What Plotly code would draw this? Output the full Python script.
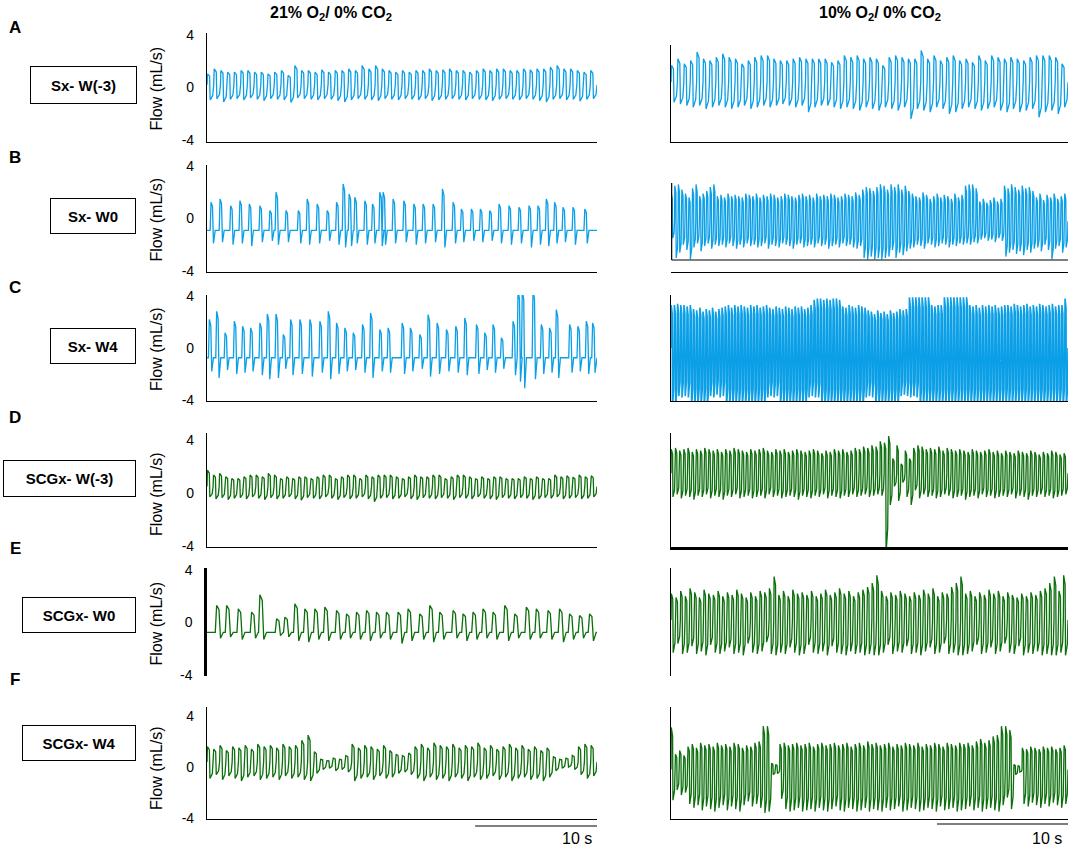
import plotly.graph_objects as go

W, H = 1072, 847
BLUE = "#0a9fe6"
GREEN = "#0b6f0b"

# ---------------- data (flow in mL/s) ----------------
row_labels = ["A", "B", "C", "D", "E", "F"]
box_labels = ["Sx- W(-3)", "Sx- W0", "Sx- W4", "SCGx- W(-3)", "SCGx- W0", "SCGx- W4"]
col_titles = ["<b>21% O<sub>2</sub>/ 0% CO<sub>2</sub></b>", "<b>10% O<sub>2</sub>/ 0% CO<sub>2</sub></b>"]
tick_vals = [-4, 0, 4]
tick_text = ["-4", "0", "4"]
y_title = "Flow (mL/s)"
scale_label = "10 s"
scale_seconds = 10
dur_left = 32.0     # seconds shown in the left column
dur_right = 30.3    # seconds shown in the right column

# A-left: Sx W(-3), 21% O2
base_A_left = 0.2
peaks_A_left = [1.04,1.42,1.30,1.17,1.17,1.30,1.30,1.17,1.17,1.04,1.17,1.30,0.92,1.68,1.30,1.30,1.17,1.35,1.17,1.30,
                1.30,1.42,1.30,1.68,1.42,1.68,1.42,1.30,1.17,1.30,1.17,1.30,1.30,1.42,1.30,1.35,1.42,1.30,1.30,1.17,
                1.30,1.42,1.30,1.42,1.42,1.30,1.30,1.42,1.35,1.42,1.42,1.55,1.68,1.42,1.42,1.30,1.17,1.30]
troughs_A_left = [-0.95,-0.85,-1.10,-0.90,-0.85,-0.95,-0.80,-0.90,-1.00,-0.85,-0.90,-0.95,-1.15,-0.80,-0.85,-0.90,-0.95,-0.85,-0.90,-1.00,
                  -1.10,-0.95,-0.85,-0.90,-0.95,-1.00,-0.85,-0.90,-0.95,-0.85,-0.90,-0.95,-0.85,-1.00,-0.95,-0.90,-0.85,-0.90,-0.95,-0.85,
                  -0.90,-0.95,-1.00,-0.90,-0.85,-0.90,-0.95,-0.85,-0.90,-1.00,-1.10,-0.90,-0.85,-0.95,-0.90,-1.05,-0.90,-0.85]

# A-right: Sx W(-3), 10% O2
base_A_right = 0.4
peaks_A_right = [1.68,2.19,1.81,2.06,2.70,2.19,2.06,2.31,2.57,2.31,2.19,1.81,2.06,2.31,2.44,2.44,2.19,2.06,2.06,2.19,
                 2.31,2.19,2.19,2.19,2.19,1.93,2.06,2.44,2.31,2.44,2.19,2.31,2.19,1.68,2.31,2.44,2.31,2.19,2.19,2.82,
                 2.19,2.44,2.06,2.31,2.44,2.06,2.19,1.93,2.44,2.06,2.44,2.31,2.19,2.31,2.19,2.06,2.31,2.44,2.44,2.44,
                 2.31,1.81]
troughs_A_right = [-1.12,-1.25,-1.37,-1.50,-1.37,-1.63,-1.50,-1.37,-1.50,-1.63,-1.50,-1.37,-1.63,-1.50,-1.37,-1.50,-1.37,-1.25,-1.37,-1.50,
                   -1.37,-1.88,-1.50,-1.37,-1.37,-1.50,-1.63,-1.50,-1.63,-1.76,-1.50,-1.63,-1.76,-1.50,-1.63,-1.76,-1.50,-2.39,-1.63,-1.76,
                   -1.88,-1.50,-1.63,-2.01,-1.88,-1.63,-1.50,-1.63,-1.76,-1.63,-1.50,-1.76,-1.88,-1.63,-1.88,-1.76,-1.63,-2.27,-1.88,-1.76,
                   -2.01,-1.50]

# B-left: Sx W0, 21% O2 (spiky breaths on a flat baseline)
base_B_left = -0.9
times_B_left = [0.33,1.07,1.94,2.70,3.47,4.34,5.16,5.66,6.48,7.49,8.22,9.04,9.86,10.63,11.17,11.66,12.13,12.95,13.58,14.18,
                14.45,15.27,16.15,16.97,17.73,18.55,19.32,20.19,20.87,21.69,22.43,23.20,23.96,24.78,25.60,26.42,27.16,27.84,28.52,29.21,
                30.03,31.00]
peaks_B_left = [1.24,1.49,0.98,1.36,1.11,0.98,0.61,2.00,0.61,0.61,1.49,1.11,0.61,1.24,2.63,1.87,1.62,1.36,1.11,2.00,
                2.00,1.49,1.36,1.11,1.11,1.11,2.25,1.24,0.73,0.73,0.73,0.61,1.11,0.98,0.86,0.98,0.98,1.49,1.24,0.86,
                0.86,0.73]
troughs_B_left = [-1.9,-1.8,-2.0,-1.9,-2.1,-1.8,-1.7,-2.0,-1.8,-1.9,-2.0,-1.9,-1.7,-2.0,-2.2,-2.1,-1.9,-2.0,-1.9,-2.1,
                  -2.0,-1.9,-1.8,-2.0,-1.9,-1.8,-2.2,-1.9,-1.8,-1.7,-1.8,-1.7,-1.9,-2.0,-1.9,-2.2,-2.0,-2.1,-1.9,-1.8,
                  -2.0,-1.9]

# B-right: Sx W0, 10% O2
base_B_right = -0.2
peaks_B_right = [1.9,2.5,2.6,2.2,1.9,1.6,2.3,2.6,1.7,1.9,2.1,2.4,2.6,
                 1.7,1.8,1.6,1.9,1.7,1.8,1.7,1.6,1.9,1.8,1.7,1.9,1.6,1.8,1.7,1.9,1.8,1.6,1.7,1.9,
                 1.8,1.7,1.6,1.8,1.9,1.7,1.8,1.6,1.9,1.7,1.8,1.7,1.9,1.8,1.6,1.7,1.9,1.8,1.7,2.0,1.8,
                 2.2,2.4,2.3,2.1,2.4,2.6,2.5,2.2,
                 2.6,2.4,2.6,2.2,2.5,2.1,
                 1.9,1.7,1.6,2.0,1.8,1.5,1.7,1.9,1.6,1.8,1.7,1.5,1.9,1.6,1.8,
                 2.5,2.6,2.6,2.3,
                 1.3,1.5,1.2,1.4,1.6,1.3,1.5,
                 2.5,2.3,2.6,2.4,2.2,2.5,2.3,2.4,2.1,
                 1.6,1.9,1.4,1.8,1.6,1.9,1.5,1.7,1.9]
troughs_B_right = [-1.5,-3.0,-2.6,-2.0,-2.4,-3.1,-2.2,-1.9,-2.5,-2.1,-1.9,-2.3,-2.0,
                   -2.1,-2.0,-2.2,-1.9,-2.1,-2.3,-2.0,-2.2,-1.9,-2.1,-2.0,-2.2,-2.1,-1.9,-2.3,-2.0,-2.1,-2.2,-1.9,-2.0,
                   -2.1,-2.3,-2.0,-1.9,-2.2,-2.1,-2.0,-2.2,-1.9,-2.1,-2.0,-2.3,-2.1,-2.0,-2.2,-1.9,-2.1,-2.0,-2.2,-2.3,-2.1,
                   -3.0,-3.1,-2.9,-3.1,-3.0,-3.1,-3.0,-2.9,
                   -2.4,-3.0,-2.6,-2.8,-2.5,-2.3,
                   -2.2,-2.0,-2.1,-2.3,-1.9,-2.0,-2.2,-2.1,-1.9,-2.0,-2.2,-2.0,-2.1,-1.9,-2.0,
                   -1.9,-2.0,-1.8,-1.9,
                   -1.6,-1.5,-1.7,-1.6,-1.8,-1.5,-1.7,
                   -2.9,-2.6,-2.4,-2.7,-2.5,-2.8,-2.4,-2.6,-2.3,
                   -2.2,-2.5,-2.0,-2.4,-3.1,-2.3,-2.1,-2.6,-2.2]

# C-left: Sx W4, 21% O2
base_C_left = -0.75
times_C_left = [0.19,0.79,1.48,2.24,2.92,3.58,4.34,4.95,5.66,6.26,6.86,7.62,8.44,9.26,9.95,10.63,11.31,12.00,12.76,13.42,
                14.18,14.86,16.01,16.69,17.46,18.14,18.88,19.65,20.41,21.15,22.11,22.79,23.47,24.15,25.11,25.52,25.87,26.75,27.43,28.11,
                28.66,29.75,30.43,31.12,31.64]
peaks_C_left = [2.19,2.82,1.17,2.06,1.68,1.55,1.93,2.62,2.62,1.04,2.19,2.19,2.19,2.06,2.82,1.93,1.55,1.17,1.81,2.70,
                1.42,1.55,1.93,1.55,1.04,2.57,1.93,1.42,1.68,2.31,1.81,1.17,1.81,0.79,2.06,4.50,4.50,4.50,1.81,1.55,
                2.95,1.81,1.68,2.06,1.93]
troughs_C_left = [-1.8,-2.3,-1.7,-2.0,-1.9,-1.8,-2.1,-2.4,-2.3,-1.6,-2.1,-2.0,-2.2,-1.9,-2.4,-2.0,-1.8,-1.7,-1.9,-2.3,
                  -1.8,-1.9,-2.0,-1.8,-1.6,-2.2,-2.0,-1.8,-1.9,-2.1,-2.0,-1.7,-1.9,-1.6,-2.1,-2.6,-3.1,-2.4,-2.0,-1.9,
                  -2.3,-1.9,-1.8,-2.0,-1.9]

# C-right: Sx W4, 10% O2 (saturated)
base_C_right = 0.0
peaks_C_right = [3.3,3.3,3.4,3.3,3.3,3.2,3.3,
                 3.0,2.9,3.1,2.8,3.0,2.9,3.1,2.8,3.0,3.1,
                 3.2,3.3,3.1,3.3,3.2,3.3,3.2,3.1,3.3,3.2,3.3,3.1,3.2,3.3,
                 3.1,3.0,3.2,3.1,3.0,3.2,3.1,3.0,3.2,3.1,3.2,3.0,3.1,3.3,
                 3.7,3.8,3.8,3.7,3.8,3.7,3.8,3.8,3.7,
                 3.2,3.1,3.3,3.2,3.1,3.3,3.2,3.1,
                 2.9,2.8,2.6,2.9,2.7,2.8,2.6,2.9,2.7,2.8,3.0,2.9,3.0,
                 3.9,3.9,3.9,3.9,3.9,3.9,3.9,
                 3.3,3.2,3.3,3.3,
                 3.9,3.9,3.9,3.9,3.9,3.9,3.9,3.9,
                 3.3,3.2,3.3,3.1,3.3,3.2,3.3,3.2,3.3,3.1,3.2,3.3,
                 3.3,3.2,3.4,3.3,3.2,3.3,3.4,3.2,3.3,3.2,3.4,3.3,3.2,3.3,3.4,3.2,3.3,3.3,3.8]
troughs_C_right = [-4.5,-4.5,-3.7,-3.8,-3.7,-3.8,-4.5,-4.5,-4.5,-4.5,
                   -4.5,-4.5,-3.7,-3.8,-3.6,-3.8,-3.7,-4.5,-4.5,-4.5,
                   -4.5,-4.5,-4.5,-4.5,-4.5,-4.5,-4.5,-4.5,-4.5,-4.5,
                   -3.8,-3.7,-3.8,-3.7,-4.5,-4.5,-4.5,-4.5,-4.5,-4.5,
                   -4.5,-4.5,-4.5,-3.8,-3.7,-3.8,-3.8,-4.5,-4.5,-4.5,
                   -4.5,-4.5,-4.5,-4.5,-4.5,-4.5,-4.5,-4.5,-4.5,-4.5,
                   -4.5,-3.8,-3.7,-3.8,-4.5,-4.5,-4.5,-4.5,-4.5,-4.5,
                   -4.5,-4.5,-3.7,-3.6,-3.7,-3.8,-3.7,-3.8,-4.5,-4.5,
                   -4.5,-4.5,-4.5,-4.5,-4.5,-4.5,-4.5,-4.5,-4.5,-4.5,
                   -4.5,-4.5,-4.5,-4.5,-4.5,-4.5,-4.5,-4.5,-4.5,-4.5,
                   -4.5,-4.5,-4.5,-4.5,-4.5,-4.5,-4.5,-4.5,-4.5,-4.5,
                   -4.5,-4.5,-4.5,-4.5,-4.5,-4.5,-4.5,-4.5,-4.5,-4.5,
                   -4.5,-4.5,-4.5,-4.5,-4.5]

# D-left: SCGx W(-3), 21% O2
base_D_left = 0.5
peaks_D_left = [1.74,1.36,1.48,1.23,1.10,1.10,1.23,1.36,1.36,1.23,1.48,1.36,1.10,1.23,1.10,1.23,1.23,1.10,1.23,1.36,
                1.36,1.10,1.23,1.36,1.36,1.10,1.36,1.23,1.36,1.36,1.36,1.23,1.10,1.23,1.36,1.23,1.23,1.36,1.36,1.10,
                1.23,1.36,1.36,1.23,1.10,1.23,1.10,1.23,1.23,1.10,1.10,1.10,1.23,1.10,1.23,1.10,1.10,1.36,1.23,1.30,
                1.20,1.36,1.23,1.30]
troughs_D_left = [-0.30,-0.45,-0.35,-0.50,-0.40,-0.35,-0.45,-0.30,-0.40,-0.50,-0.35,-0.45,-0.40,-0.30,-0.45,-0.55,-0.35,-0.40,-0.45,-0.30,
                  -0.40,-0.50,-0.35,-0.45,-0.40,-0.30,-0.45,-0.65,-0.40,-0.35,-0.45,-0.40,-0.30,-0.45,-0.50,-0.35,-0.40,-0.45,-0.35,-0.40,
                  -0.50,-0.35,-0.40,-0.45,-0.30,-0.40,-0.45,-0.50,-0.35,-0.40,-0.45,-0.35,-0.40,-0.50,-0.45,-0.35,-0.40,-0.30,-0.45,-0.40,
                  -0.35,-0.45,-0.40,-0.30]

# D-right: SCGx W(-3), 10% O2
base_D_right = 1.5
peaks_D_right = [3.3,3.4,3.2,3.3,3.4,3.1,3.3,3.2,3.4,3.3, 3.2,3.3,3.1,3.3,3.2,3.4,3.3,3.2,3.1,3.3,
                 3.2,3.3,3.4,3.2,3.1,3.3,3.2,3.3,3.1,3.2, 3.3,3.2,3.1,3.2,3.3,3.2,3.0,3.2,3.1,3.3,
                 3.2,3.3,3.1,3.2,3.4,3.3,3.5,3.4,3.6,3.5, 3.9,3.8,4.3,2.6,3.6,2.2,3.2,2.6,3.4,3.6,
                 3.5,3.3,3.4,3.3,3.5,3.2,3.4,3.3,3.2,3.3, 3.2,3.1,3.3,3.2,3.1,3.2,3.3,3.1,3.2,3.0,
                 3.2,3.1,3.0,3.2,3.1,3.0,3.2,3.1,2.9,3.1, 3.0,3.2,3.1,2.9,3.0]
troughs_D_right = [-0.3,-0.1,-0.4,-0.2,-0.3,-0.5,-0.2,-0.3,-0.1,-0.4, -0.2,-0.3,-0.5,-0.2,-0.3,-0.1,-0.4,-0.3,-0.2,-0.4,
                   -0.3,-0.2,-0.4,-0.1,-0.3,-0.2,-0.4,-0.3,-0.2,-0.3, -0.5,-0.2,-0.3,-0.4,-0.2,-0.3,-0.1,-0.4,-0.2,-0.3,
                   -0.4,-0.2,-0.3,-0.1,-0.3,-0.2,-0.1,-0.3,-0.2,-0.1, -0.2,-4.5,-0.9,0.5,-0.6,0.8,-0.3,-0.9,0.2,-0.4,
                   -0.1,-0.3,-0.2,-0.4,-0.3,-0.1,-0.2,-0.4,-0.3,-0.2, -0.5,-0.3,-0.2,-0.4,-0.1,-0.3,-0.2,-0.4,-0.3,-0.2,
                   -0.3,-0.1,-0.4,-0.2,-0.3,-0.5,-0.2,-0.3,-0.1,-0.3, -0.2,-0.4,-0.3,-0.2,-0.1]

# E-left: SCGx W0, 21% O2
base_E_left = -0.75
times_E_left = [0.79,1.61,2.57,3.66,4.34,5.71,6.39,7.21,8.03,8.85,9.67,10.63,11.45,12.27,13.09,13.91,14.73,15.68,16.50,17.46,
                18.28,19.10,20.19,21.01,21.83,22.65,23.47,24.43,25.25,26.20,27.02,27.98,28.93,29.75,30.57,31.39]
peaks_E_left = [1.30,1.30,1.04,0.79,2.11,0.28,0.41,1.42,1.04,1.04,1.17,0.92,0.66,0.79,0.92,0.79,0.79,0.79,1.04,0.66,
                1.30,0.79,0.92,0.66,0.79,1.04,0.79,1.30,0.66,1.17,1.04,0.92,1.04,0.66,0.53,0.66]
troughs_E_left = [-1.2,-1.1,-1.3,-1.2,-1.3,-1.0,-1.1,-1.4,-1.5,-1.3,-1.4,-1.3,-1.2,-1.3,-1.4,-1.2,-1.3,-1.6,-1.4,-1.3,
                  -1.5,-1.3,-1.2,-1.4,-1.3,-1.2,-1.3,-1.4,-1.2,-1.3,-1.2,-1.3,-1.5,-1.3,-1.2,-1.4]

# E-right: SCGx W0, 10% O2
base_E_right = 0.2
peaks_E_right = [2.2,1.9,2.4,2.0,2.6,2.3,1.9,2.5,2.2,2.1, 2.4,2.0,2.3,2.1,2.5,2.2,1.9,2.3,2.0,2.4,
                 2.3,2.6,3.5,2.1,2.4,2.0,2.5,2.2,2.3,2.1, 2.4,2.0,2.2,2.5,2.1,2.3,2.6,2.2,2.4,2.0,
                 2.3,2.5,2.7,3.0,3.6,2.4,2.0,2.3,2.1,2.4, 2.2,2.0,2.3,2.1,2.5,2.2,2.6,2.0,2.3,2.2,
                 2.7,3.0,3.5,2.2,2.4,2.0,2.3,2.1,2.5,2.2, 2.4,2.0,2.3,2.1,1.9,2.2,2.0,2.3,2.1,2.4,
                 2.6,3.0,3.5,2.4,3.6]
troughs_E_right = [-2.3,-1.6,-2.4,-2.3,-1.8,-2.4,-2.2,-2.5,-1.7,-2.3, -2.4,-2.2,-1.9,-2.4,-2.3,-2.5,-1.6,-2.3,-2.4,-2.2,
                   -1.5,-2.4,-2.5,-2.3,-2.4,-1.9,-2.3,-2.5,-2.4,-1.7, -2.3,-2.4,-2.2,-2.5,-1.8,-2.3,-2.4,-2.5,-2.2,-2.4,
                   -2.3,-2.5,-2.4,-2.5,-2.5,-2.3,-1.7,-2.4,-2.2,-2.3, -1.8,-2.4,-2.3,-2.5,-2.2,-1.9,-2.4,-2.3,-1.6,-2.4,
                   -2.3,-2.5,-2.5,-2.4,-2.2,-1.7,-2.4,-2.3,-1.9,-2.4, -2.2,-1.6,-2.3,-2.4,-1.8,-2.5,-2.3,-2.4,-2.2,-2.5,
                   -2.4,-2.5,-2.5,-2.3,-2.5]

# F-left: SCGx W4, 21% O2
base_F_left = 0.4
peaks_F_left = [1.6,1.4,1.7,1.3,1.6,1.5,1.7,1.4,1.8,1.6, 1.7,1.5,1.8,1.6,1.7,2.1,2.5,1.2,0.6,0.5,
                0.7,0.6,0.9,1.8,1.5,1.7,1.6,1.4,1.7,1.3, 1.0,0.9,1.1,1.6,1.8,1.5,1.9,1.7,1.6,1.8,
                1.5,1.7,1.6,1.9,1.5,1.7,1.4,1.6,1.8,1.5, 1.7,1.4,1.6,1.3,1.5,0.8,0.6,0.7,0.9,1.6,
                1.8,1.7]
troughs_F_left = [-0.9,-0.6,-1.0,-0.7,-0.9,-1.1,-0.8,-0.7,-1.0,-0.9, -0.8,-1.0,-0.7,-0.9,-0.8,-1.0,-1.1,-0.5,-0.2,-0.1,
                  -0.3,-0.2,-0.4,-1.1,-0.9,-0.8,-1.0,-0.7,-0.9,-0.8, -0.5,-0.4,-0.6,-0.9,-1.1,-0.8,-1.0,-0.9,-1.1,-0.8,
                  -0.9,-1.1,-0.8,-1.0,-0.9,-0.7,-1.0,-0.8,-1.1,-0.9, -0.8,-1.0,-0.9,-1.1,-0.8,-0.3,-0.1,0.0,-0.2,-0.6,
                  -0.9,-0.7]

# F-right: SCGx W4, 10% O2
base_F_right = -0.2
peaks_F_right = [3.1,1.0,1.3,0.9,1.6,1.8,1.5,1.9,1.7,1.8, 1.6,1.9,1.7,1.8,1.6,1.9,1.8,1.5,1.7,1.6,
                 1.9,2.0,3.2,3.2,0.3,0.2,1.8,1.9,1.7,1.8, 1.9,1.7,1.8,1.9,1.6,1.8,1.9,1.7,1.8,1.9,
                 1.7,1.8,1.9,1.6,1.8,1.9,1.7,2.0,1.8,1.9, 1.7,1.8,1.9,1.6,1.8,1.7,1.9,1.8,1.7,1.9,
                 1.6,1.8,1.7,1.9,1.8,1.6,1.9,1.8,1.7,1.9, 1.8,1.9,1.7,2.0,2.2,1.9,2.1,2.4,2.5,3.2,
                 3.2,2.9,0.2,0.1,1.5,1.4,1.6,1.5,1.4,1.6, 1.5,1.6,1.4,1.5,1.7]
troughs_F_right = [-2.6,-1.8,-2.2,-2.0,-2.9,-3.2,-3.0,-3.4,-3.1,-3.3, -3.5,-3.2,-3.0,-3.4,-3.1,-3.3,-3.5,-3.0,-2.7,-3.1,
                   -2.9,-3.2,-3.6,-3.5,-0.6,-0.5,-2.5,-3.3,-3.5,-3.4, -3.2,-3.5,-3.4,-3.3,-3.5,-3.2,-3.4,-3.5,-3.3,-3.1,
                   -3.4,-3.5,-3.2,-3.3,-3.5,-3.4,-3.2,-3.5,-3.3,-3.4, -3.5,-3.2,-3.4,-3.3,-3.1,-3.5,-3.4,-3.2,-3.3,-3.5,
                   -3.4,-3.2,-3.3,-3.5,-3.1,-3.4,-3.3,-3.2,-3.5,-3.4, -3.3,-3.1,-3.4,-3.2,-3.5,-3.3,-3.2,-3.4,-3.5,-3.0,
                   -2.4,-3.3,-0.6,-0.4,-2.9,-3.1,-2.8,-3.0,-3.2,-2.9, -3.1,-2.8,-3.0,-3.2,-2.9]


# ---------------- waveform builders (one breath = rise, plateau, fall, recovery) ----------------
def square_wave(peaks, troughs, base, t_end):
    n = len(peaks)
    per = t_end / n
    xs, ys = [], []
    for i, (p, q) in enumerate(zip(peaks, troughs)):
        s = i * per
        for f, v in ((0.0, base), (0.07, p), (0.38, 0.8 * p + 0.2 * base),
                     (0.47, q), (0.85, 0.7 * q + 0.3 * base)):
            xs.append(s + f * per)
            ys.append(v)
    xs.append(t_end)
    ys.append(base)
    return xs, ys


def spike_wave(times, peaks, troughs, base, t_end, w=1.0):
    xs, ys = [0.0], [base]
    for t, p, q in zip(times, peaks, troughs):
        for dt, v in ((-0.07, base), (0.0, p), (0.12, 0.85 * p + 0.15 * base),
                      (0.20, q), (0.34, base)):
            xs.append(t + dt * w)
            ys.append(v)
    xs.append(t_end)
    ys.append(base)
    return xs, ys


panels = [
    square_wave(peaks_A_left, troughs_A_left, base_A_left, dur_left),
    square_wave(peaks_A_right, troughs_A_right, base_A_right, dur_right),
    spike_wave(times_B_left, peaks_B_left, troughs_B_left, base_B_left, dur_left),
    square_wave(peaks_B_right, troughs_B_right, base_B_right, dur_right),
    spike_wave(times_C_left, peaks_C_left, troughs_C_left, base_C_left, dur_left),
    square_wave(peaks_C_right, troughs_C_right, base_C_right, dur_right),
    square_wave(peaks_D_left, troughs_D_left, base_D_left, dur_left),
    square_wave(peaks_D_right, troughs_D_right, base_D_right, dur_right),
    spike_wave(times_E_left, peaks_E_left, troughs_E_left, base_E_left, dur_left, w=1.6),
    square_wave(peaks_E_right, troughs_E_right, base_E_right, dur_right),
    square_wave(peaks_F_left, troughs_F_left, base_F_left, dur_left),
    square_wave(peaks_F_right, troughs_F_right, base_F_right, dur_right),
]

# ---------------- layout geometry (pixels) ----------------
# per row: y pixel of +4, y pixel of -4, top of plot area, bottom of plot area
rows_px = [(35, 140, 33, 142), (166, 271, 165, 272), (296, 400, 295, 401),
           (440, 546, 433, 547), (570, 675, 568, 676), (716, 818, 707, 819)]
top_override = {1: 45}   # A-right frame starts a little lower
cols_px = [(207, 597), (671, 1068)]
col_dur = [dur_left, dur_right]
# which axis lines are drawn: (left line, bottom line, left width, bottom width)
lines = [
    (True, True, 1.2, 1.2), (True, True, 1.2, 1.2),
    (True, True, 1.2, 1.2), (False, True, 1.2, 1.2),
    (True, True, 1.2, 1.2), (True, True, 1.2, 1.2),
    (True, True, 1.2, 1.2), (True, True, 1.2, 3.0),
    (True, False, 2.5, 1.2), (True, False, 1.2, 1.2),
    (True, True, 1.2, 1.2), (True, True, 1.2, 1.2),
]
colors = [BLUE] * 6 + [GREEN] * 6
line_w = [1.3] * 5 + [1.6] + [1.3] * 6

px_x = lambda p: p / W
px_y = lambda p: 1 - p / H

fig = go.Figure()
layout = dict(width=W, height=H, margin=dict(l=0, r=0, t=0, b=0, pad=0, autoexpand=False),
              paper_bgcolor="white", plot_bgcolor="white", showlegend=False,
              font=dict(family="Arial, Liberation Sans, sans-serif", color="black"))
annotations = []
shapes = []
row_vrange = []


def note(text, xpx, ypx, **kw):
    d = dict(text=text, x=px_x(xpx), y=px_y(ypx), xref="paper", yref="paper",
             xanchor="center", yanchor="middle", showarrow=False)
    d.update(kw)
    annotations.append(d)


for r, (yp4, ym4, top_row, bot) in enumerate(rows_px):
    ppu = (ym4 - yp4) / 8.0
    lo = -4 - (bot - ym4) / ppu
    row_vrange.append((ppu, yp4))
    for c in range(2):
        k = r * 2 + c
        top = top_override.get(k, top_row)
        hi = 4 + (yp4 - top) / ppu
        sx = "" if k == 0 else str(k + 1)
        x0, x1 = cols_px[c]
        left_on, bot_on, lw_l, lw_b = lines[k]
        layout["xaxis" + sx] = dict(domain=[px_x(x0), px_x(x1)], range=[0, col_dur[c]],
                                    anchor="y" + sx, showgrid=False, zeroline=False,
                                    showticklabels=False, ticks="", showline=bot_on,
                                    linecolor="black", linewidth=lw_b, fixedrange=True,
                                    automargin=False)
        ya = dict(domain=[px_y(bot), px_y(top)], range=[lo, hi], anchor="x" + sx,
                  showgrid=False, zeroline=False, ticks="", showline=left_on,
                  linecolor="black", linewidth=lw_l, fixedrange=True, automargin=False)
        if c == 0:
            ya.update(tickvals=tick_vals, ticktext=tick_text, showticklabels=True,
                      tickfont=dict(size=14, color="black"), ticklabelstandoff=9)
        else:
            ya.update(showticklabels=False)
        layout["yaxis" + sx] = ya
        xs, ys = panels[k]
        fig.add_trace(go.Scatter(x=xs, y=ys, mode="lines", xaxis="x" + sx, yaxis="y" + sx,
                                 line=dict(color=colors[k], width=line_w[k]), hoverinfo="skip"))
    note(y_title, 156, (yp4 + ym4) / 2 + 1, textangle=-90, font=dict(size=16))
    note("<b>%s</b>" % row_labels[r], 15, [27, 157, 287, 418, 548, 679][r], font=dict(size=17))

boxes = [(83.5, 85, 105, 36), (93, 216, 84, 34), (93, 346, 84, 34),
         (69.5, 479, 131, 35), (79, 615, 112, 34), (79, 743, 112, 34)]
for r, (bx, by, bw, bh) in enumerate(boxes):
    note("<b>%s</b>" % box_labels[r], bx, by, width=bw, height=bh,
         bordercolor="black", borderwidth=1, borderpad=0, bgcolor="white",
         font=dict(size=15), align="center", valign="middle")

note(col_titles[0], 331, 14, font=dict(size=16))
note(col_titles[1], 880, 14, font=dict(size=16))

# B-right inner frame (the recorder's own baseline box)
ppu_b, yp4_b = row_vrange[1]
v = lambda py: 4 - (py - yp4_b) / ppu_b
shapes.append(dict(type="line", xref="x4", yref="y4", x0=0.05, x1=0.05, y0=v(260), y1=v(183),
                   line=dict(color="black", width=1.2)))
shapes.append(dict(type="line", xref="x4", yref="y4", x0=0.05, x1=dur_right, y0=v(260), y1=v(260),
                   line=dict(color="black", width=1.2)))

# 10 s scale bars under the bottom row
shapes.append(dict(type="line", xref="x11", yref="paper", x0=dur_left - scale_seconds, x1=dur_left,
                   y0=px_y(826), y1=px_y(826), line=dict(color="black", width=1.2)))
shapes.append(dict(type="line", xref="x12", yref="paper", x0=dur_right - scale_seconds, x1=dur_right,
                   y0=px_y(824), y1=px_y(824), line=dict(color="black", width=1.2)))
note(scale_label, 577, 838, font=dict(size=16))
note(scale_label, 1047, 838, font=dict(size=16))

layout["annotations"] = annotations
layout["shapes"] = shapes
fig.update_layout(**layout)
fig.write_html("out.html", config={"displayModeBar": False},
               post_script="document.body.style.margin='0';document.body.style.overflow='hidden';")
